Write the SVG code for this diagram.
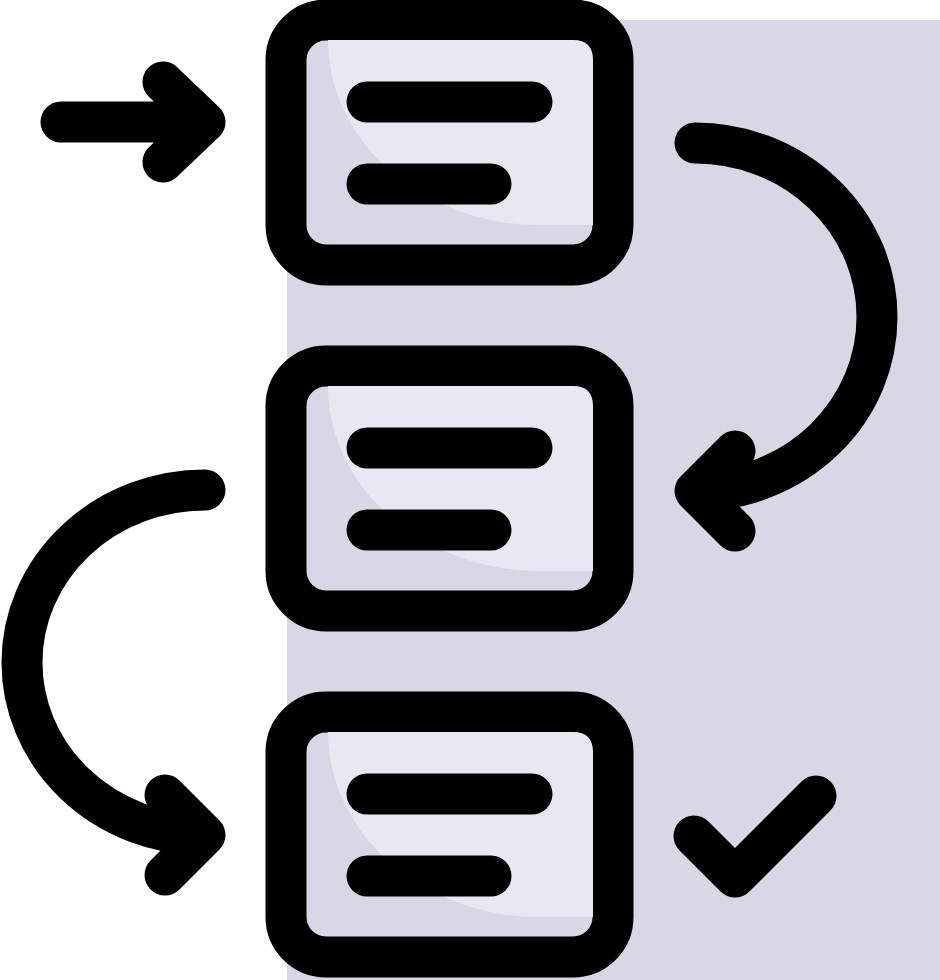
<svg xmlns="http://www.w3.org/2000/svg" xmlns:xlink="http://www.w3.org/1999/xlink" width="940" height="980" viewBox="0 0 940 980">
<style>
.ink{fill:none;stroke:#000;stroke-width:41;stroke-linecap:round;stroke-linejoin:round}
.frame{fill:#d8d7e5;stroke:#000;stroke-width:41}
.hl{fill:#e9e8f2}
</style>
<defs>
<g id="card">
<rect class="frame" x="286" y="20" width="327" height="245" rx="40" ry="40"/>
<path class="hl" d="M328,40 L573,40 Q593,40 593,60 L593,225 L540,225 A212 185 0 0 1 328,40 Z"/>
<line class="ink" x1="367" y1="102" x2="532" y2="102"/>
<line class="ink" x1="367" y1="184" x2="491" y2="184"/>
</g>
</defs>
<rect x="287" y="20" width="653" height="960" fill="#d8d7e5"/>
<g id="node1"><use xlink:href="#card"/></g>
<g id="node2"><use xlink:href="#card" y="346"/></g>
<g id="node3"><use xlink:href="#card" y="692"/></g>
<g id="connectors">
<path class="ink" d="M61,122 L203,122 M163,82 L205,122 L163,162"/>
<path class="ink" d="M695,143 A182 174 0 0 1 877,317 A182 174 0 0 1 697,491 M735,451 L695,491 L735,531"/>
<path class="ink" d="M205,490 A183 172.5 0 0 0 22,662 A183 172.5 0 0 0 203,835 M165,795 L205,835 L165,875"/>
</g>
<g id="check"><path class="ink" d="M694,836 L735,877 L816,796"/></g>
</svg>
